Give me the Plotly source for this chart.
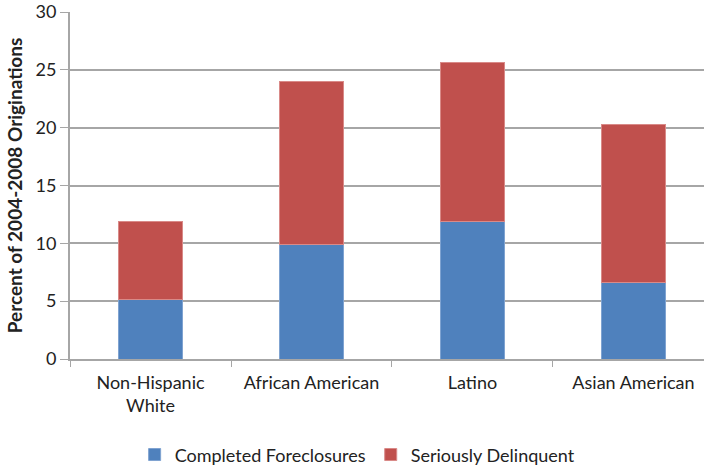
import plotly.graph_objects as go

categories = ["Non-Hispanic<br>White", "African American", "Latino", "Asian American"]
completed_foreclosures = [5.14, 9.86, 11.9, 6.6]
seriously_delinquent = [6.79, 14.16, 13.76, 13.71]

BLUE = "#4F81BD"
RED = "#C0504D"
GRID = "#A6A6A6"
FONT = "Lato, 'Open Sans', sans-serif"

fig = go.Figure()
fig.add_trace(go.Bar(
    x=categories, y=completed_foreclosures, name="Completed Foreclosures",
    marker=dict(color=BLUE, line=dict(color="#7FA3D1", width=1)), width=0.40,
))
fig.add_trace(go.Bar(
    x=categories, y=seriously_delinquent, name="Seriously Delinquent",
    marker=dict(color=RED, line=dict(color="#D98A88", width=1)), width=0.40,
))

fig.update_layout(
    barmode="stack",
    width=704, height=466,
    margin=dict(l=70, r=0, t=12, b=106.5, pad=0),
    paper_bgcolor="white", plot_bgcolor="white",
    font=dict(family=FONT, size=18, color="#222222"),
    showlegend=True,
    legend=dict(
        orientation="h", xref="container", yref="container",
        x=0.508, xanchor="center", y=0.024, yanchor="middle",
        font=dict(size=18), traceorder="normal",
        itemwidth=30,
    ),
    xaxis=dict(
        range=[-0.5, 3.438], showgrid=False, automargin=False,
        showline=True, linecolor=GRID, linewidth=2,
        ticks="outside", tickson="boundaries", ticklen=6, tickcolor=GRID, tickwidth=1,
        tickfont=dict(size=18), ticklabelstandoff=6,
    ),
    yaxis=dict(
        range=[0, 30], dtick=5, showgrid=True, gridcolor=GRID, gridwidth=2,
        showline=True, linecolor=GRID, linewidth=2, automargin=False,
        ticks="outside", ticklen=8, tickcolor=GRID, tickwidth=1,
        tickfont=dict(size=18), zeroline=False,
        title=dict(text="<b>Percent of 2004-2008 Originations</b>", font=dict(size=19), standoff=8),
    ),
)

fig.write_html(
    "out.html",
    config={"displayModeBar": False},
    post_script="document.body.style.margin='0';",
)
